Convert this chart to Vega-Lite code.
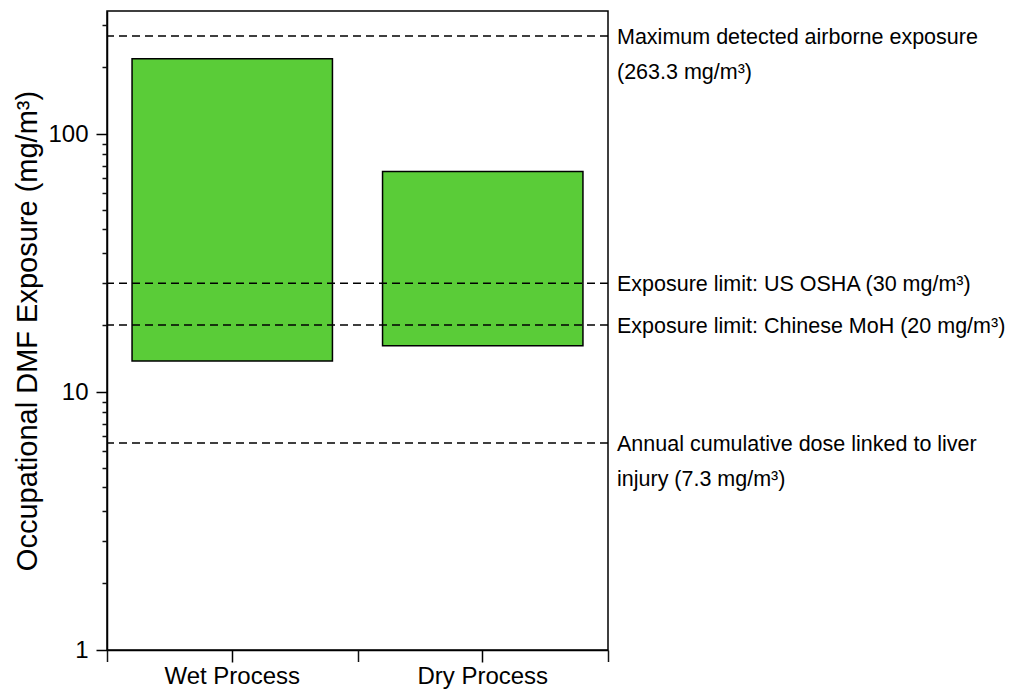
{
  "$schema": "https://vega.github.io/schema/vega-lite/v6.json",
  "autosize": {"type": "none"},
  "padding": {"left": 107, "top": 11, "right": 403, "bottom": 40},
  "width": 501,
  "height": 639,
  "background": "white",
  "config": {
    "font": "Liberation Sans",
    "view": {"stroke": "black", "strokeWidth": 1.5},
    "axis": {
      "domainColor": "black",
      "domainWidth": 1.5,
      "tickWidth": 1.5,
      "labelColor": "black",
      "titleColor": "black",
      "grid": false,
      "labelFont": "Liberation Sans",
      "titleFont": "Liberation Sans",
      "titleFontWeight": "normal"
    }
  },
  "datasets": {
    "bars": [
      {"process": "Wet Process", "low": 13.2, "high": 196},
      {"process": "Dry Process", "low": 15.1, "high": 71.6}
    ],
    "lines": [
      {"value": 240, "label": "Maximum detected airborne exposure\n(263.3 mg/m³)"},
      {"value": 26.4, "label": "Exposure limit: US OSHA (30 mg/m³)"},
      {"value": 18.2, "label": "Exposure limit: Chinese MoH (20 mg/m³)"},
      {"value": 6.35, "label": "Annual cumulative dose linked to liver\ninjury (7.3 mg/m³)"}
    ]
  },
  "resolve": {"axis": {"x": "independent", "y": "independent"}},
  "layer": [
    {
      "data": {"name": "bars"},
      "mark": {"type": "bar", "color": "#5ACC38", "width": {"band": 0.8}},
      "encoding": {
        "x": {
          "field": "process",
          "type": "nominal",
          "sort": null,
          "scale": {"paddingInner": 0, "paddingOuter": 0},
          "axis": {
            "title": null,
            "labelAngle": 0,
            "labelFontSize": 24,
            "tickSize": 12,
            "tickColor": "#000000",
            "labelPadding": 2,
            "tickBand": "center",
            "orient": "bottom"
          }
        },
        "y": {
          "field": "low",
          "type": "quantitative",
          "scale": {"type": "log", "domain": [1, 300], "nice": false},
          "axis": {
            "orient": "left",
            "title": "Occupational DMF Exposure (mg/m³)",
            "titleFontSize": 29,
            "titlePadding": 5,
            "labelFontSize": 24,
            "labelPadding": 8,
            "tickSize": 11,
            "tickColor": "#000000",
            "labelOverlap": false,
            "labelFlush": false,
            "values": [1, 10, 100],
            "format": "d"
          }
        },
        "y2": {"field": "high"}
      }
    },
    {
      "data": {"name": "bars"},
      "mark": {"type": "bar", "filled": false, "color": "black", "strokeWidth": 1.5, "width": {"band": 0.8}},
      "encoding": {
        "x": {
          "field": "process",
          "type": "nominal",
          "sort": null,
          "axis": {
            "title": null,
            "labels": false,
            "domain": false,
            "tickBand": "extent",
            "tickSize": 11.5,
            "tickColor": "#111111",
            "orient": "bottom"
          }
        },
        "y": {
          "field": "low",
          "type": "quantitative",
          "axis": {
            "orient": "left",
            "title": null,
            "labels": false,
            "domain": false,
            "tickSize": 5,
            "tickColor": "#111111",
            "values": [1.818, 2.636, 3.455, 4.273, 5.091, 5.909, 6.727, 7.545, 8.364, 9.182, 18.18, 26.36, 34.55, 42.73, 50.91, 59.09, 67.27, 75.45, 83.64, 91.82, 181.8, 263.6]
          }
        },
        "y2": {"field": "high"}
      }
    },
    {
      "data": {"name": "lines"},
      "mark": {"type": "rule", "color": "black", "strokeWidth": 1.5, "strokeDash": [8, 5]},
      "encoding": {
        "y": {
          "field": "value",
          "type": "quantitative",
          "scale": {"type": "log", "domain": [1, 300], "nice": false},
          "axis": null
        }
      }
    },
    {
      "data": {"name": "lines"},
      "mark": {
        "type": "text",
        "align": "left",
        "baseline": "top",
        "dx": 9,
        "dy": -9,
        "fontSize": 21.5,
        "lineHeight": 35,
        "lineBreak": "\n",
        "color": "black"
      },
      "encoding": {
        "x": {"value": "width"},
        "y": {"field": "value", "type": "quantitative", "axis": null},
        "text": {"field": "label"}
      }
    }
  ]
}
